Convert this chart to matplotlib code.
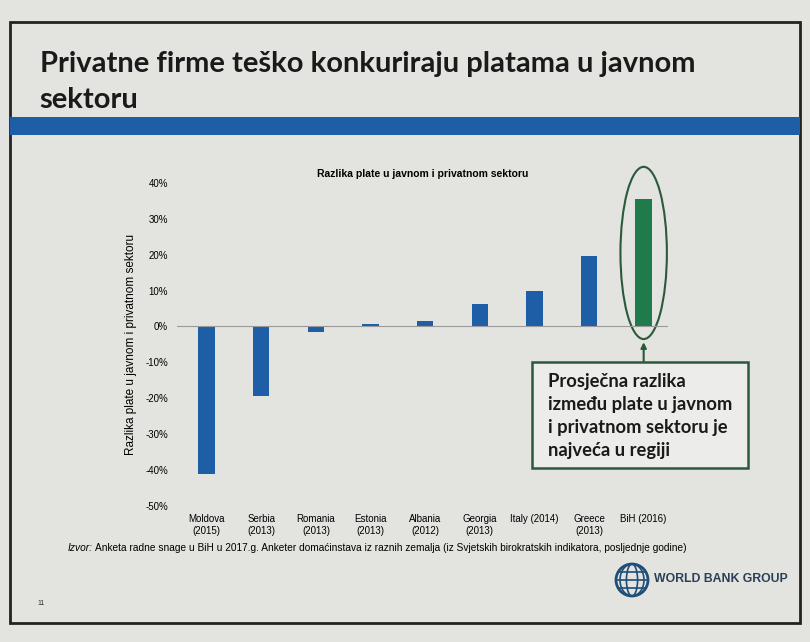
import numpy as np
import matplotlib.pyplot as plt
from matplotlib.patches import Rectangle, Ellipse, Arc

# data
countries = ['Moldova\n(2015)', 'Serbia\n(2013)', 'Romania\n(2013)', 'Estonia\n(2013)',
             'Albania\n(2012)', 'Georgia\n(2013)', 'Italy (2014)', 'Greece\n(2013)', 'BiH (2016)']
gap = [-41, -19.5, -1.5, 0.8, 1.4, 6.2, 9.8, 19.7, 35.5]
yticks = [-50, -40, -30, -20, -10, 0, 10, 20, 30, 40]

bg = '#e3e3e0'
blue = '#1d5ea6'
green = '#1f7a4c'
dark_green = '#2b5a3a'

fig = plt.figure(figsize=(8.1, 6.42), dpi=100, facecolor=bg)

# slide frame
fig.patches.append(Rectangle((0.012, 0.03), 0.976, 0.935, transform=fig.transFigure,
                             fill=False, edgecolor='#222222', linewidth=2))

# title
fig.text(0.049, 0.872, 'Privatne firme teško konkuriraju platama u javnom\nsektoru',
         fontsize=21, fontweight='bold', family='Lato', color='#1a1a1a',
         va='center', ha='left', linespacing=1.5)

# blue band under title
fig.patches.append(Rectangle((0.012, 0.79), 0.976, 0.027, transform=fig.transFigure,
                             facecolor=blue, edgecolor='none'))

# chart
ax = fig.add_axes([0.218, 0.212, 0.607, 0.503])
ax.set_facecolor(bg)
x = np.arange(len(countries))
colors = [blue] * (len(countries) - 1) + [green]
ax.bar(x, gap, width=0.3, color=colors)
ax.axhline(0, color='#9a9a9a', linewidth=0.8)
ax.set_xlim(-0.55, 8.45)
ax.set_ylim(-50, 40)
ax.set_yticks(yticks)
ax.set_yticklabels([f'{v}%' for v in yticks], fontsize=7, family='Liberation Sans')
ax.set_xticks(x)
ax.set_xticklabels(countries, fontsize=7, family='Liberation Sans')
ax.tick_params(length=0, pad=6)
for s in ax.spines.values():
    s.set_visible(False)
ax.set_ylabel('Razlika plate u javnom i privatnom sektoru', fontsize=8.5,
              family='Liberation Sans', labelpad=6)
ax.set_title('Razlika plate u javnom i privatnom sektoru', fontsize=7.5,
             fontweight='bold', family='Liberation Sans', pad=4)

# highlight BiH
ax.add_patch(Ellipse((8, 20.5), 0.85, 48, fill=False, edgecolor=dark_green,
                     linewidth=1.5, clip_on=False))
ax.annotate('', xy=(8, -3.6), xytext=(8, -11),
            arrowprops=dict(arrowstyle='-|>', color=dark_green, lw=1.5, mutation_scale=8),
            annotation_clip=False)

# annotation box
fig.patches.append(Rectangle((0.657, 0.271), 0.266, 0.165, transform=fig.transFigure,
                             facecolor='#ececea', edgecolor=dark_green, linewidth=1.8))
fig.text(0.676, 0.352, 'Prosječna razlika\nizmeđu plate u javnom\ni privatnom sektoru je\nnajveća u regiji',
         fontsize=13.2, fontweight='bold', family='Lato', color='#1a1a1a',
         va='center', ha='left', linespacing=1.42)

# source
fig.text(0.084, 0.146, 'Izvor:', fontsize=7.3, style='italic', family='Liberation Sans',
         va='center')
fig.text(0.117, 0.146, 'Anketa radne snage u BiH u 2017.g. Anketer domaćinstava iz raznih zemalja '
         '(iz Svjetskih birokratskih indikatora, posljednje godine)',
         fontsize=7.3, family='Liberation Sans', va='center')

# logo: simple globe
cx, cy, r = 632, 62, 16  # pixels from bottom-left
w, h = 2 * r / 810, 2 * r / 642
fig.patches.append(Ellipse((cx / 810, cy / 642), w, h, transform=fig.transFigure,
                           facecolor='none', edgecolor='#1f4e79', linewidth=2))
for k in [0.35, 0.75]:
    fig.patches.append(Ellipse((cx / 810, cy / 642), w * k, h, transform=fig.transFigure,
                               facecolor='none', edgecolor='#1f4e79', linewidth=1.2))
for k in [-0.5, 0, 0.5]:
    yy = (cy + k * r) / 642
    half = np.sqrt(1 - k ** 2) * r / 810
    fig.add_artist(plt.Line2D([cx / 810 - half, cx / 810 + half], [yy, yy],
                              transform=fig.transFigure, color='#1f4e79', linewidth=1.2))
fig.text(0.808, 0.098, 'WORLD BANK GROUP', fontsize=8.8, fontweight='bold',
         family='Liberation Sans', color='#2a3f5a', va='center')

fig.text(0.046, 0.058, '11', fontsize=5, family='Liberation Sans', color='#333333')

fig.savefig('out.png', dpi=100, facecolor=bg)
